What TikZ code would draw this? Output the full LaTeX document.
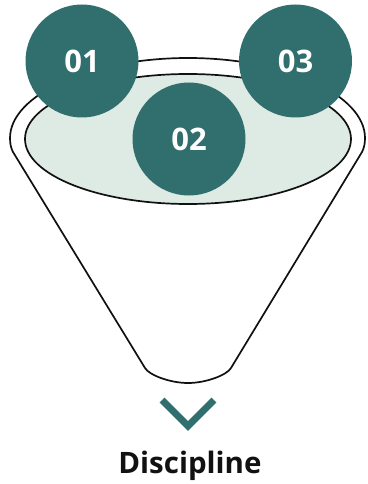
\documentclass[tikz,border=0pt]{standalone}
\usepackage{fontspec}
\setmainfont{Open Sans}
\usepackage{tikz}
\usetikzlibrary{positioning}
\definecolor{tealdark}{HTML}{306F6E}
\definecolor{mint}{HTML}{DEEBE4}
\definecolor{bk90}{HTML}{111111}
\tikzset{
  stepcircle/.style={
    circle, fill=tealdark, draw=none,
    minimum size=#1, inner sep=0pt,
    font=\fontsize{31}{32}\selectfont\bfseries, text=white
  },
  stepcircle/.default=113pt,
  rimline/.style={draw=bk90, line width=1.7pt, line join=round},
  chevron/.style={draw=tealdark, line width=7pt, line join=miter},
  titlenode/.style={
    font=\fontsize{29.5}{30}\selectfont\bfseries, text=bk90, inner sep=0pt
  },
}
\begin{document}
\begin{tikzpicture}[x=1pt, y=-1pt]
\useasboundingbox (0,0) rectangle (367,484);

% Funnel body
\draw[rimline, fill=white] (188,58)
  .. controls (90,58) and (10,95) .. (10,138)
  .. controls (10,144) and (11,148) .. (13,152)
  -- (145,368)
  .. controls (149,375) and (170,383) .. (188,383)
  .. controls (206,383) and (227,375) .. (231,368)
  -- (362,152)
  .. controls (364,148) and (365,144) .. (365,138)
  .. controls (365,95) and (286,58) .. (188,58) -- cycle;

% Inner opening
\draw[rimline, fill=mint] (188,139) ellipse [x radius=163, y radius=65];

% Steps
\node[stepcircle] (s01) at (82,61) {01};
\node[stepcircle] (s03) at (295.5,61) {03};
\node[stepcircle] (s02) at (189,139) {02};

% Arrow down
\draw[chevron] (162,400) -- (188,426) -- (214,400);

\node[titlenode, anchor=base] (title) at (190,473) {Discipline};

\end{tikzpicture}
\end{document}
